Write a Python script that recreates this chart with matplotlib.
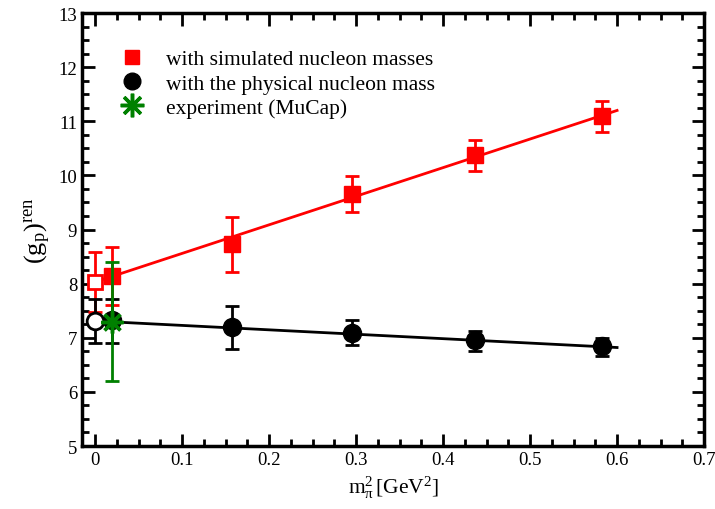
import matplotlib.pyplot as plt
import numpy as np
from matplotlib.lines import Line2D
from matplotlib.ticker import MultipleLocator

plt.rcParams['font.family'] = ['Liberation Serif', 'DejaVu Serif']
plt.rcParams['mathtext.fontset'] = 'custom'
plt.rcParams['mathtext.rm'] = 'Liberation Serif'
plt.rcParams['mathtext.it'] = 'Liberation Serif:italic'

# Lattice data with simulated nucleon masses
x_sim = np.array([0.02, 0.157, 0.295, 0.437, 0.583])
y_sim = np.array([8.15, 8.74, 9.65, 10.37, 11.09])
err_sim_up = np.array([0.53, 0.50, 0.34, 0.28, 0.28])
err_sim_dn = np.array([0.55, 0.52, 0.32, 0.28, 0.29])

# Lattice data with the physical nucleon mass
x_phys = np.array([0.02, 0.157, 0.295, 0.437, 0.583])
y_phys = np.array([7.33, 7.20, 7.09, 6.96, 6.84])
err_phys_up = np.array([0.38, 0.38, 0.24, 0.17, 0.16])
err_phys_dn = np.array([0.43, 0.40, 0.23, 0.20, 0.17])

# Extrapolated values at m_pi^2 = 0
x_chiral = 0.0
y_sim_chiral = 8.03
err_sim_chiral = (0.56, 0.55)
y_phys_chiral = 7.31
err_phys_chiral = (0.41, 0.40)

# Linear fits
fit_x = np.array([0.0, 0.6])
fit_sim = np.array([8.03, 11.20])
fit_phys = np.array([7.31, 6.82])

# Experiment (MuCap)
x_exp = 0.02
y_exp = 7.3
err_exp = 1.1

x_ticks = [0, 0.1, 0.2, 0.3, 0.4, 0.5, 0.6, 0.7]
x_ticklabels = ['0', '0.1', '0.2', '0.3', '0.4', '0.5', '0.6', '0.7']
labels = ['with simulated nucleon masses', 'with the physical nucleon mass',
          'experiment (MuCap)']

fig = plt.figure(figsize=(7.15, 5.1), dpi=100)
ax = fig.add_axes([0.1147, 0.1235, 0.87, 0.849])

ax.plot(fit_x, fit_sim, color='red', lw=2, zorder=2)
ax.plot(fit_x, fit_phys, color='black', lw=2, zorder=2)

ekw = dict(linestyle='none', elinewidth=2, capsize=5, capthick=2)
ax.errorbar(x_sim, y_sim, yerr=[err_sim_dn, err_sim_up], fmt='s', color='red',
            markersize=11, zorder=3, **ekw)
ax.errorbar([x_chiral], [y_sim_chiral], yerr=[[err_sim_chiral[1]], [err_sim_chiral[0]]],
            fmt='s', color='red', mfc='white', mec='red', mew=2, markersize=10,
            zorder=3, **ekw)
ax.errorbar(x_phys, y_phys, yerr=[err_phys_dn, err_phys_up], fmt='o', color='black',
            markersize=13, zorder=4, **ekw)
ax.errorbar([x_chiral], [y_phys_chiral], yerr=[[err_phys_chiral[1]], [err_phys_chiral[0]]],
            fmt='o', color='black', mfc='white', mec='black', mew=2, markersize=12,
            zorder=4, **ekw)
ax.errorbar([x_exp], [y_exp], yerr=err_exp, fmt='none', ecolor='green',
            zorder=5, **ekw)
ax.plot([x_exp], [y_exp], marker=(8, 2, 0), color='green', markersize=16,
        mew=2.5, linestyle='none', zorder=6)

ax.set_xlim(-0.015, 0.7)
ax.set_ylim(5, 13)
ax.set_xticks(x_ticks)
ax.set_xticklabels(x_ticklabels)
ax.xaxis.set_minor_locator(MultipleLocator(0.025))
ax.yaxis.set_major_locator(MultipleLocator(1))
ax.yaxis.set_minor_locator(MultipleLocator(0.25))
ax.tick_params(which='both', direction='in', top=True, right=True, width=2, labelsize=13.5)
ax.tick_params(which='major', length=9)
ax.tick_params(which='minor', length=5)
for s in ax.spines.values():
    s.set_linewidth(2.5)

ax.set_xlabel(r'$\mathrm{m_\pi^2\,[GeV^2]}$', fontsize=15.5)
ax.set_ylabel(r'$\mathrm{(g_p)^{ren}}$', fontsize=19)

handles = [
    Line2D([], [], marker='s', color='red', linestyle='none', markersize=10.5),
    Line2D([], [], marker='o', color='black', linestyle='none', markersize=12),
    Line2D([], [], marker=(8, 2, 0), color='green', linestyle='none',
           markersize=17, mew=2.5),
]
ax.legend(handles, labels, loc='upper left', bbox_to_anchor=(0.0547, 0.9165),
          frameon=False, fontsize=15.5, handletextpad=0.8, labelspacing=0.2,
          handlelength=1.5, borderpad=0, borderaxespad=0)

fig.savefig('out.png', dpi=100)
